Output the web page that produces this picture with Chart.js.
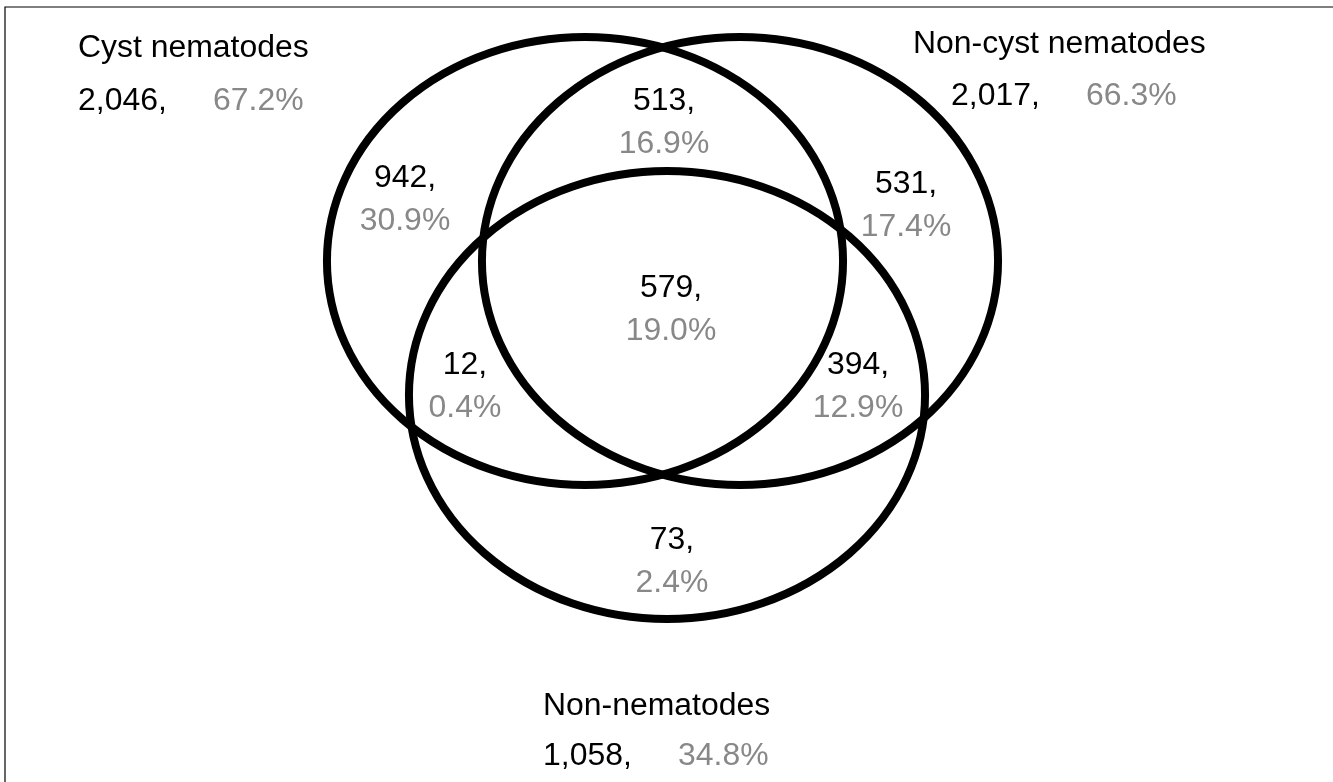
<!DOCTYPE html>
<html>
<head>
<meta charset="utf-8">
<script src="https://cdn.jsdelivr.net/npm/chart.js@4/dist/chart.umd.min.js"></script>
<style>
  html, body { margin: 0; padding: 0; background: #fff; }
  #venn { display: block; }
</style>
</head>
<body>
<canvas id="venn" width="1333" height="782"></canvas>
<script>
// Data
const setNames = ["Cyst nematodes", "Non-cyst nematodes", "Non-nematodes"];
const setCounts = [2046, 2017, 1058];
const setPercents = [67.2, 66.3, 34.8];

// Regions: only cyst, cyst+noncyst, only noncyst, cyst+non, all three, noncyst+non, only non
const regionCounts = [942, 513, 531, 12, 579, 394, 73];
const regionPercents = [30.9, 16.9, 17.4, 0.4, 19.0, 12.9, 2.4];

// Layout (in axis units, same as pixels of the figure)
const circleCenters = [
  { x: 585, y: 261 },
  { x: 740, y: 261 },
  { x: 667, y: 395 },
];
const circleRadius = 224; // drawn with a horizontal stretch
const circleStretch = 1.152;
const textStretch = 1.03;

const regionAnchors = [
  { x: 405, y: 187 },
  { x: 664, y: 110 },
  { x: 906, y: 193 },
  { x: 465, y: 374 },
  { x: 671, y: 297 },
  { x: 858, y: 374 },
  { x: 672, y: 549 },
];
const nameAnchors = [
  { x: 78, y: 57 },
  { x: 913, y: 53 },
  { x: 543, y: 715 },
];
const countAnchors = [
  { x: 78, y: 110 },
  { x: 951, y: 105 },
  { x: 543, y: 765 },
];

const FONT = "31px 'Liberation Sans', Arial, Helvetica, sans-serif";
const GREY = "#888888";

const fmtCount = (n) => n.toLocaleString("en-US") + ",";
const fmtPct = (p) => p.toFixed(1) + "%";

function drawText(ctx, text, x, y, align, color) {
  ctx.save();
  ctx.translate(x, y);
  ctx.scale(textStretch, 1);
  ctx.font = FONT;
  ctx.fillStyle = color;
  ctx.textAlign = align;
  ctx.textBaseline = "alphabetic";
  ctx.fillText(text, 0, 0);
  ctx.restore();
}

// Frame, ellipses and labels
const vennPlugin = {
  id: "venn",
  afterDatasetsDraw(chart) {
    const ctx = chart.ctx;
    const xs = chart.scales.x;
    const ys = chart.scales.y;

    // thin frame on top and left
    ctx.save();
    ctx.strokeStyle = "#000";
    ctx.lineWidth = 1.2;
    ctx.beginPath();
    ctx.moveTo(xs.getPixelForValue(5), ys.getPixelForValue(782));
    ctx.lineTo(xs.getPixelForValue(5), ys.getPixelForValue(7));
    ctx.lineTo(xs.getPixelForValue(1333), ys.getPixelForValue(7));
    ctx.stroke();
    ctx.restore();

    // circles
    const circles = chart.getDatasetMeta(0).data;
    const ry = Math.abs(ys.getPixelForValue(circleRadius) - ys.getPixelForValue(0));
    circles.forEach((pt) => {
      ctx.save();
      ctx.translate(pt.x, pt.y);
      ctx.scale(circleStretch, 1);
      ctx.beginPath();
      ctx.arc(0, 0, ry, 0, Math.PI * 2);
      ctx.restore();
      ctx.save();
      ctx.strokeStyle = "#000";
      ctx.lineWidth = 8;
      ctx.stroke();
      ctx.restore();
    });

    // region labels
    chart.getDatasetMeta(1).data.forEach((pt, i) => {
      drawText(ctx, fmtCount(regionCounts[i]), pt.x, pt.y, "center", "#000");
      drawText(ctx, fmtPct(regionPercents[i]), pt.x, pt.y + 43, "center", GREY);
    });

    // set names and totals
    chart.getDatasetMeta(2).data.forEach((pt, i) => {
      drawText(ctx, setNames[i], pt.x, pt.y, "left", "#000");
    });
    chart.getDatasetMeta(3).data.forEach((pt, i) => {
      drawText(ctx, fmtCount(setCounts[i]), pt.x, pt.y, "left", "#000");
      drawText(ctx, fmtPct(setPercents[i]), pt.x + 135, pt.y, "left", GREY);
    });
  },
};

new Chart(document.getElementById("venn"), {
  type: "scatter",
  data: {
    datasets: [
      { label: "sets", data: circleCenters, pointRadius: 0 },
      { label: "regions", data: regionAnchors, pointRadius: 0 },
      { label: "names", data: nameAnchors, pointRadius: 0 },
      { label: "totals", data: countAnchors, pointRadius: 0 },
    ],
  },
  options: {
    responsive: false,
    animation: false,
    devicePixelRatio: 1,
    layout: { padding: 0 },
    plugins: { legend: { display: false }, tooltip: { enabled: false } },
    scales: {
      x: { type: "linear", min: 0, max: 1333, display: false },
      y: { type: "linear", min: 0, max: 782, reverse: true, display: false },
    },
  },
  plugins: [vennPlugin],
});
</script>
</body>
</html>
